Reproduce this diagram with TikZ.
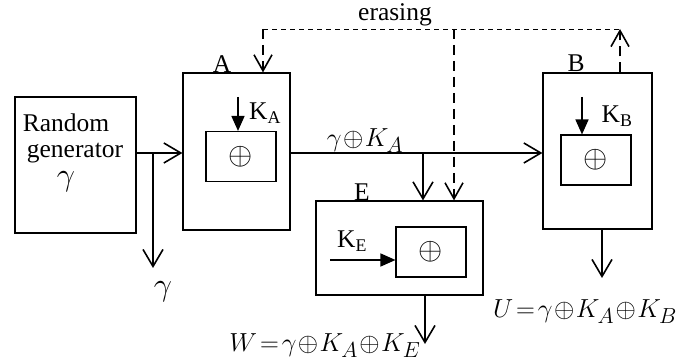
\documentclass[tikz,border=0pt]{standalone}
\usepackage{graphicx}
\usepackage{fontspec}
\setmainfont{Liberation Serif}
\usetikzlibrary{arrows.meta}
\newcommand{\scmath}[2]{\scalebox{#1}{$#2$}}
\begin{document}
\begin{tikzpicture}[x=1pt,y=-1pt,
  every node/.style={font=\fontsize{25.5}{29}\selectfont, inner sep=0pt},
  mathlbl/.style={font=\fontsize{24.88}{29}\selectfont},
  box/.style={draw, line width=1.2pt},
  inbox/.style={draw, line width=1.1pt, minimum width=70pt, minimum height=50pt},
  flow/.style={line width=1.6pt, -{Straight Barb[length=17pt,width=20pt,line width=1.6pt]}},
  keyarr/.style={line width=1.6pt, -{Triangle[length=15pt,width=13pt]}},
  thindash/.style={line width=0.8pt, dash pattern=on 5pt off 4pt},
  thickdash/.style={line width=1.6pt, dash pattern=on 10pt off 6pt},
  dasharr/.style={thickdash, -{Straight Barb[length=16pt,width=18pt,line width=1.6pt]}}
]
\useasboundingbox (0,0) rectangle (693,363);

% boxes
\node[box, minimum width=121pt, minimum height=136pt] (gen) at (75.5,165) {};
\node[box, minimum width=107pt, minimum height=157pt] (A) at (236.5,151.5) {};
\node[box, minimum width=109pt, minimum height=156pt] (B) at (597.5,151) {};
\node[box, minimum width=167pt, minimum height=94pt] (E) at (399.5,248) {};
\node[inbox] (ia) at (241,156.5) {\scmath{1.25}{\oplus}};
\node[inbox] (ib) at (596,160) {\scmath{1.25}{\oplus}};
\node[inbox] (ie) at (431,252) {\scmath{1.25}{\oplus}};

% texts
\node (t1) at (66,123) {Random};
\node (t2) at (75,153) {generator};
\node[mathlbl] (t3) at (66,182) {\scmath{1.3}{\gamma}};
\node[anchor=south] (la) at (222,73) {A};
\node[anchor=south] (lb) at (576,72) {B};
\node[anchor=south] (le) at (362,201) {E};
\node (ka) at (265,113) {K\textsubscript{A}};
\node (kb) at (617,116) {K\textsubscript{B}};
\node (ke) at (352,241) {K\textsubscript{E}};
\node (er) at (395,15) {erasing};
\node[mathlbl] (gk) at (365,141) {\scmath{1.05}{\gamma\!\oplus\! K_A}};
\node[mathlbl] (g) at (163,292) {\scmath{1.3}{\gamma}};
\node[mathlbl] (u) at (585,312) {\scmath{1.05}{U\!=\!\gamma\!\oplus\! K_A\!\oplus\! K_B}};
\node[mathlbl] (w) at (325,346) {\scmath{1.05}{W\!=\!\gamma\!\oplus\! K_A\!\oplus\! K_E}};

% coordinates
\coordinate (gb) at (153,153);
\coordinate (gend) at (153,268);
\coordinate (eb) at (423,153);
\coordinate (katop) at (238,97);
\coordinate (kbtop) at (582,97);
\coordinate (kestart) at (330,260);
\coordinate (d1) at (263,29);
\coordinate (d2) at (454,29);
\coordinate (d3) at (620,29);
\coordinate (uend) at (602,278);
\coordinate (wend) at (425,344);

% main flows
\draw[flow] (gen.east |- gb) -- (A.west |- gb);
\draw[flow] (gb) -- (gend);
\draw[flow] (A.east |- gb) -- (B.west |- gb);
\draw[flow] (eb) -- (eb |- E.north);
\draw[flow] (B.south -| uend) -- (uend);
\draw[flow] (E.south -| wend) -- (wend);

% key arrows
\draw[keyarr] (katop) -- (katop |- ia.north);
\draw[keyarr] (kbtop) -- (kbtop |- ib.north);
\draw[keyarr] (kestart) -- (ie.west |- kestart);

% erasing
\draw[thindash] (d1) -- (d3);
\draw[dasharr] (d1) -- (d1 |- A.north);
\draw[dasharr] (d2) -- (d2 |- E.north);
\draw[dasharr] (B.north -| d3) -- (d3);
\end{tikzpicture}
\end{document}
